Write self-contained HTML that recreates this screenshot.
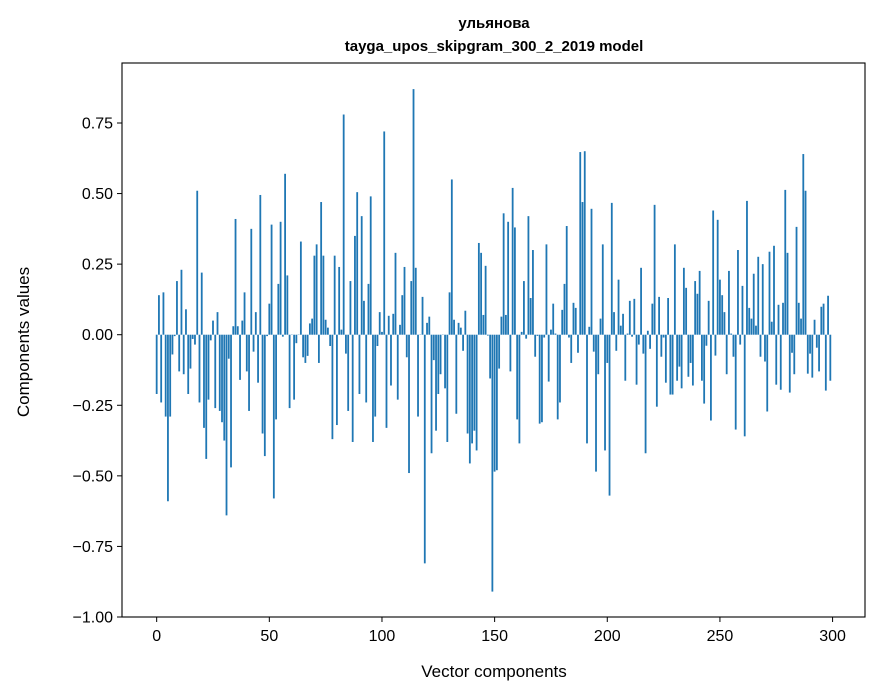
<!DOCTYPE html>
<html><head><meta charset="utf-8"><style>
html,body{margin:0;padding:0;background:#fff;}
svg{display:block;font-family:"Liberation Sans","DejaVu Sans",sans-serif;}
</style></head><body>
<svg id="chart" width="880" height="696" viewBox="0 0 880 696" xmlns="http://www.w3.org/2000/svg">
<rect x="0" y="0" width="880" height="696" fill="#fff"/>
<text x="494" y="28" text-anchor="middle" font-size="15" font-weight="bold">ульянова</text>
<text x="494" y="51" text-anchor="middle" font-size="15" font-weight="bold">tayga_upos_skipgram_300_2_2019 model</text>
<g id="bars"></g>
<g id="yticks"></g>
<g id="xticks"></g>
<rect x="122" y="63" width="743" height="554" fill="none" stroke="#000" stroke-width="1.1"/>
<text x="494" y="677" text-anchor="middle" font-size="17">Vector components</text>
<text x="29" y="342" text-anchor="middle" font-size="17" transform="rotate(-90 29 342)">Components values</text>
</svg>
<script>
const values = [
-0.21,0.14,-0.24,0.15,-0.29,-0.59,-0.29,-0.07,-0.005,0.19,
-0.13,0.23,-0.14,0.09,-0.21,-0.12,-0.015,-0.035,0.51,-0.24,
0.22,-0.33,-0.44,-0.23,-0.02,0.05,-0.26,0.08,-0.27,-0.31,
-0.375,-0.64,-0.085,-0.47,0.03,0.41,0.03,-0.16,0.05,0.15,
-0.13,-0.27,0.375,-0.06,0.08,-0.17,0.495,-0.35,-0.43,-0.005,
0.11,0.39,-0.58,-0.30,0.18,0.40,-0.007,0.57,0.21,-0.26,
0.0,-0.23,-0.03,0.0,0.33,-0.08,-0.10,-0.075,0.04,0.057,
0.28,0.32,-0.10,0.47,0.28,0.053,0.025,-0.04,-0.37,0.28,
-0.32,0.24,0.018,0.78,-0.067,-0.27,0.19,-0.38,0.35,0.505,
-0.21,0.42,0.12,-0.24,0.18,0.49,-0.38,-0.29,-0.04,0.08,
0.01,0.72,-0.33,0.067,-0.18,0.074,0.29,-0.23,0.035,0.14,
0.24,-0.08,-0.49,0.19,0.87,0.237,-0.29,0.0,0.134,-0.81,
0.042,0.064,-0.42,-0.09,-0.34,-0.21,-0.14,0.0,-0.19,-0.38,
0.15,0.55,0.053,-0.28,0.042,0.025,-0.057,0.085,-0.35,-0.456,
-0.385,-0.34,-0.41,0.325,0.29,0.07,0.244,-0.003,-0.155,-0.91,
-0.485,-0.48,-0.12,0.064,0.43,0.07,0.40,-0.13,0.52,0.38,
-0.30,-0.385,0.01,0.19,-0.014,0.42,0.13,0.30,-0.078,-0.004,
-0.315,-0.31,-0.01,0.32,-0.166,0.018,0.11,0.004,-0.30,-0.24,
0.088,0.18,0.385,-0.01,-0.10,0.113,0.095,-0.064,0.647,0.47,
0.65,-0.385,0.028,0.446,-0.06,-0.485,-0.14,0.057,0.32,-0.41,
-0.10,-0.57,0.467,0.08,-0.057,0.195,0.032,0.074,-0.163,0.004,
0.12,-0.007,0.127,-0.177,-0.035,0.237,-0.067,-0.42,0.014,-0.05,
0.11,0.46,-0.255,0.134,-0.078,-0.01,-0.17,0.13,-0.212,-0.212,
0.32,-0.163,-0.113,-0.19,0.237,0.166,-0.149,-0.10,-0.18,0.19,
0.145,0.226,-0.163,-0.244,-0.039,0.12,-0.304,0.44,-0.074,0.407,
0.195,0.14,0.08,-0.14,0.226,0.004,-0.078,-0.336,0.30,-0.035,
0.173,-0.36,0.474,0.095,0.057,0.216,0.032,0.276,-0.078,0.25,
-0.095,-0.272,0.294,0.046,0.315,-0.177,0.106,-0.195,0.113,0.513,
0.29,-0.205,-0.064,-0.14,0.382,0.113,0.057,0.64,0.51,-0.138,
-0.067,-0.152,0.053,-0.046,-0.13,0.099,0.11,-0.198,0.138,-0.163
];
const yTickValues = [-1.0,-0.75,-0.5,-0.25,0.0,0.25,0.5,0.75];
const yTickLabels = ["\u22121.00","\u22120.75","\u22120.50","\u22120.25","0.00","0.25","0.50","0.75"];
const xTickValues = [0,50,100,150,200,250,300];
const xTickLabels = ["0","50","100","150","200","250","300"];

const NS = "http://www.w3.org/2000/svg";
const L = 122, R = 865, T = 63, B = 617;
const xMin = -15.39, xMax = 314.39;
const yMin = -1.0, yMax = 0.9625;
function xs(v){ return L + (v - xMin) / (xMax - xMin) * (R - L); }
function ys(v){ return B - (v - yMin) / (yMax - yMin) * (B - T); }

const gBars = document.getElementById('bars');
values.forEach((v, i) => {
  const r = document.createElementNS(NS, 'rect');
  const x0 = xs(i - 0.4), x1 = xs(i + 0.4);
  const y0 = ys(Math.max(v, 0)), y1 = ys(Math.min(v, 0));
  r.setAttribute('x', x0);
  r.setAttribute('width', x1 - x0);
  r.setAttribute('y', y0);
  r.setAttribute('height', Math.max(y1 - y0, 0.3));
  r.setAttribute('fill', '#1f77b4');
  
  
  gBars.appendChild(r);
});

const gy = document.getElementById('yticks');
yTickValues.forEach((v, i) => {
  const y = ys(v);
  const ln = document.createElementNS(NS, 'line');
  ln.setAttribute('x1', L - 5); ln.setAttribute('x2', L);
  ln.setAttribute('y1', y); ln.setAttribute('y2', y);
  ln.setAttribute('stroke', '#000'); ln.setAttribute('stroke-width', '1');
  
  
  gy.appendChild(ln);
  const t = document.createElementNS(NS, 'text');
  t.setAttribute('x', L - 9); t.setAttribute('y', y + 5.5);
  t.setAttribute('text-anchor', 'end'); t.setAttribute('font-size', '16');
  t.textContent = yTickLabels[i];
  
  
  gy.appendChild(t);
});

const gx = document.getElementById('xticks');
xTickValues.forEach((v, i) => {
  const x = xs(v);
  const ln = document.createElementNS(NS, 'line');
  ln.setAttribute('x1', x); ln.setAttribute('x2', x);
  ln.setAttribute('y1', B); ln.setAttribute('y2', B + 5);
  ln.setAttribute('stroke', '#000'); ln.setAttribute('stroke-width', '1');
  
  
  gx.appendChild(ln);
  const t = document.createElementNS(NS, 'text');
  t.setAttribute('x', x); t.setAttribute('y', B + 24);
  t.setAttribute('text-anchor', 'middle'); t.setAttribute('font-size', '16');
  t.textContent = xTickLabels[i];
  
  
  gx.appendChild(t);
});
</script>
</body></html>
